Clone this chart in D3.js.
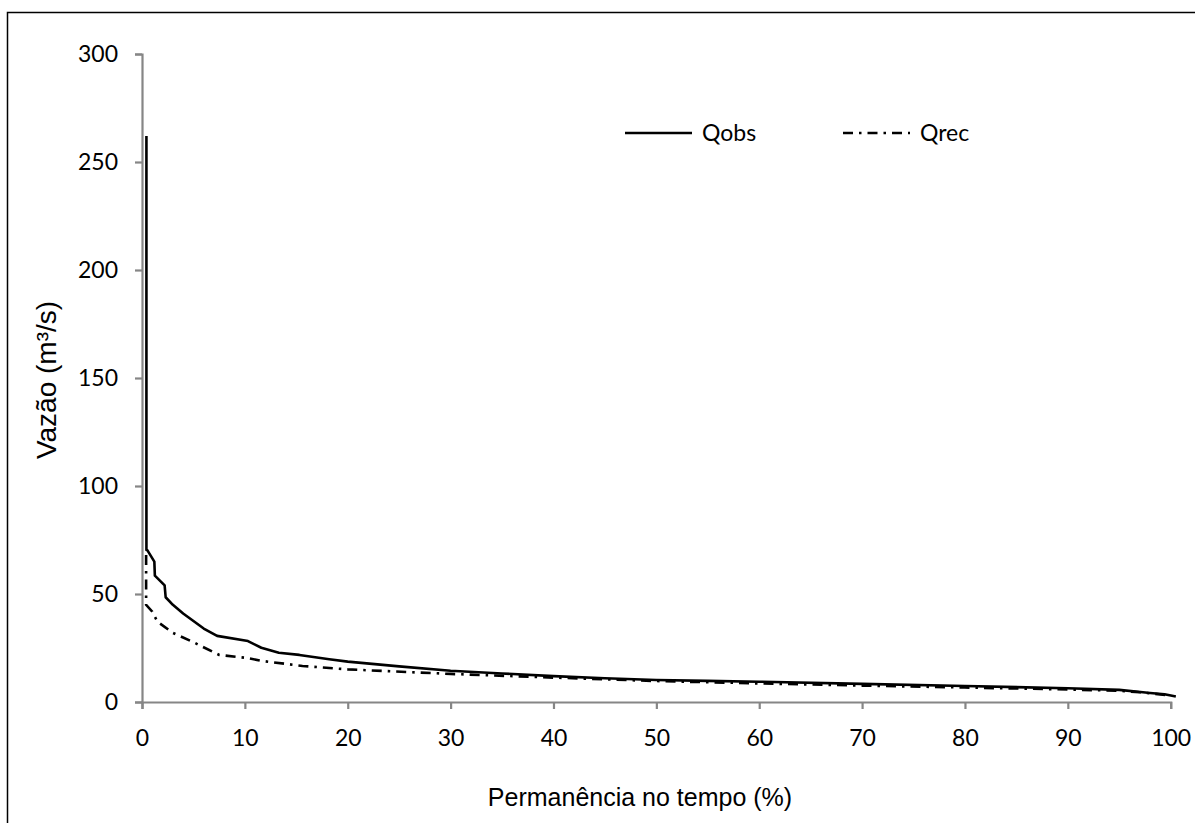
<!DOCTYPE html>
<html><head><meta charset="utf-8">
<script src="https://cdn.jsdelivr.net/npm/d3@7"></script>
<style>body{margin:0;background:#fff}svg{display:block}</style>
</head><body>
<svg id="c" width="1195" height="823"></svg>
<script>
// ---- data ----
const xTicks = [0,10,20,30,40,50,60,70,80,90,100];
const yTicks = [0,50,100,150,200,250,300];
const seriesNames = ["Qobs","Qrec"];
const qobsX = [0.43,0.43,0.5,1.2,1.25,2.2,2.3,3,4,5,6,7.3,10.3,11.6,13.3,15.3,18.2,20,25,30,35,40,45,50,55,60,70,80,90,95,97.3,98,99.4,100.5];
const qobsY = [262,70.4,70.4,65,58.5,54,48.5,45,41,37.5,34,30.6,28.2,25.1,22.8,21.8,19.8,18.7,16.5,14.5,13.2,12.0,11.0,10.2,9.8,9.4,8.4,7.4,6.4,5.6,4.5,4.2,3.6,2.5];
const qrecX = [0.4,0.4,1.0,1.5,3,4.9,7.5,10.2,11.7,15.6,20,30,40,50,60,70,80,90,95,97,100];
const qrecY = [68,45,41.8,37.2,32,27.9,21.8,20.4,19.0,16.7,15.1,13.0,11.3,9.7,8.6,7.6,6.7,5.8,5.2,4.5,3.0];

const svg = d3.select("#c");
const x = d3.scaleLinear().domain([0,100]).range([142,1170.7]);
const y = d3.scaleLinear().domain([0,300]).range([702,54]);
const axisColor = "#868686";
const tickFont = "Lato, 'Open Sans', sans-serif";

// outer frame
svg.append("rect").attr("x",7.5).attr("y",12.5).attr("width",1300).attr("height",900)
  .attr("fill","none").attr("stroke","#000").attr("stroke-width",1.5);

// axes
const gx = svg.append("g").attr("transform","translate(0,702)")
  .call(d3.axisBottom(x).tickValues(xTicks).tickSize(7).tickPadding(21).tickFormat(d3.format("d")));
const gy = svg.append("g").attr("transform","translate(142,0)")
  .call(d3.axisLeft(y).tickValues(yTicks).tickSize(7).tickPadding(17).tickFormat(d3.format("d")));
[gx,gy].forEach(g=>{
  g.select(".domain").attr("stroke",axisColor).attr("stroke-width",2.2);
  g.selectAll(".tick line").attr("stroke",axisColor).attr("stroke-width",2.2);
  g.selectAll(".tick text").attr("fill","#000").style("font-family",tickFont).style("font-size","23px");
});

// lines
const line = d3.line().x(d=>x(d[0])).y(d=>y(d[1]));
const obs = qobsX.map((v,i)=>[v,qobsY[i]]);
const rec = qrecX.map((v,i)=>[v,qrecY[i]]);
svg.append("path").datum(rec).attr("d",line).attr("fill","none").attr("stroke","#000")
  .attr("stroke-width",2.6).attr("stroke-dasharray","10,6,2.5,6");
svg.append("path").datum(obs).attr("d",line).attr("fill","none").attr("stroke","#000")
  .attr("stroke-width",2.6).attr("stroke-linejoin","round");

// legend
const leg = [{name:seriesNames[0],x0:625,dash:null},{name:seriesNames[1],x0:843,dash:"10,6,2.5,6"}];
leg.forEach(l=>{
  const p = svg.append("line").attr("x1",l.x0).attr("x2",l.x0+67).attr("y1",133).attr("y2",133)
    .attr("stroke","#000").attr("stroke-width",2.6);
  if(l.dash) p.attr("stroke-dasharray",l.dash);
  svg.append("text").attr("x",l.x0+77).attr("y",133).attr("dy","0.36em")
    .style("font-family",tickFont).style("font-size","23px").text(l.name);
});

// axis titles
svg.append("text").attr("x",640).attr("y",797).attr("dy","0.36em").attr("text-anchor","middle")
  .style("font-family","'Liberation Sans', Arial, sans-serif").style("font-size","25px")
  .text("Permanência no tempo (%)");
svg.append("text").attr("transform","translate(46,380) rotate(-90)").attr("dy","0.36em").attr("text-anchor","middle")
  .style("font-family","'Liberation Sans', Arial, sans-serif").style("font-size","28px")
  .text("Vazão (m³/s)");
</script>
</body></html>
